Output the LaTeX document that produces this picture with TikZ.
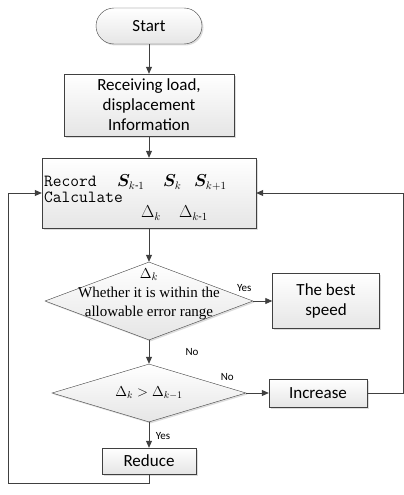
\documentclass[tikz,border=0pt]{standalone}
\usepackage{amsmath}
\usepackage{bm}
\usepackage{fontspec}
\setmainfont{Carlito}
\newfontfamily\serifq{Liberation Serif}
\usetikzlibrary{shapes.geometric,arrows.meta,positioning,shadows}
\definecolor{linegray}{RGB}{64,64,64}

\begin{document}
\begin{tikzpicture}[%
    >={Triangle[length=7pt,width=6pt]}, % filled arrow tips
    x=1pt, y=1pt,
    font=\fontsize{17}{20}\selectfont,
    ]
% -------------------------------------------------
% box styles
\tikzset{
base/.style={draw=linegray, on grid, align=center, inner sep=0pt,
    top color=white, bottom color=gray!20,
    drop shadow={shadow xshift=1.5pt, shadow yshift=-1.5pt, fill=gray!45, opacity=.6}},
proc/.style={base, rectangle},
term/.style={proc, rounded corners=18pt},
test/.style={base, diamond},
lbl/.style={font=\fontsize{11}{12}\selectfont},
recfont/.style={anchor=base west, inner sep=0pt, font=\fontsize{16}{17}\selectfont},
norm/.style={->, draw=linegray, line width=0.8pt},
}
\useasboundingbox (0,0) rectangle (404,-495);
% -------------------------------------------------
% main column
\node [term, minimum width=106, minimum height=36] (start) at (149,-26) {Start};
\node [proc, minimum width=170, minimum height=62, below=79 of start] (receive)
    {Receiving load,\\displacement\\Information};
\node [proc, minimum width=214, minimum height=70, below=88 of receive] (record) {};
\node [test, minimum width=208, minimum height=78, below=108 of record] (q1) {};
\node [test, minimum width=194, minimum height=58, below=92 of q1] (q2) {};
\node [proc, minimum width=94, minimum height=26, below=68 of q2] (reduce) {Reduce};

% side boxes
\node [proc, minimum width=107, minimum height=55, right=177 of q1] (best) {The best\\speed};
\node [proc, minimum width=98, minimum height=28, right=169 of q2] (increase) {Increase};

% texts inside the record box
\node [recfont, font=\fontsize{17}{17}\selectfont] (rec1) at ([xshift=2,yshift=-29]record.north west) {\ttfamily Record};
\node [recfont, font=\fontsize{17}{17}\selectfont] (rec2) at ([xshift=2,yshift=-45]record.north west) {\ttfamily Calculate};
\foreach \nm/\dx/\dy/\txt in {s1/75/-29/{\bm{S}_{k\text{-}1}}, s2/121/-29/{\bm{S}_{k}},
    s3/152/-29/{\bm{S}_{k+1}}, d1/99/-60/{\Delta_{k}}, d2/137/-60/{\Delta_{k\text{-}1}}}
    \node [recfont] (\nm) at ([xshift=\dx,yshift=\dy]record.north west) {$\txt$};

% texts inside the decisions
\node [align=center, font=\serifq\fontsize{15}{19}\selectfont, yshift=7] (q1txt) at (q1)
    {$\Delta_k$\\Whether it is within the\\allowable error range};
\node [font=\fontsize{14}{15}\selectfont] (q2txt) at (q2) {$\Delta_k > \Delta_{k-1}$};

% connectors
\draw [norm] (start) -- (receive);
\draw [norm] (receive) -- (record);
\draw [norm] (record) -- (q1);
\draw [norm] (q1) -- (q2);
\draw [norm] (q2) -- (reduce);
\draw [norm] (q1.east) -- (best.west);
\draw [norm] (q2.east) -- (increase.west);

% feedback loops
\coordinate (c1) at (8,-483);
\draw [norm] (reduce.south) |- (c1) |- (record.west);
\coordinate (c2) at (403,-393);
\draw [norm] (increase.east) -- (c2) |- (record.east);

% branch labels
\node [lbl] (yes1) at ([xshift=-9,yshift=13]q1.east) {Yes};
\node [lbl] (no1) at ([xshift=43,yshift=-12]q1.south) {No};
\node [lbl] (no2) at ([xshift=-19,yshift=16]q2.east) {No};
\node [lbl] (yes2) at ([xshift=14,yshift=-14]q2.south) {Yes};

\end{tikzpicture}
\end{document}
